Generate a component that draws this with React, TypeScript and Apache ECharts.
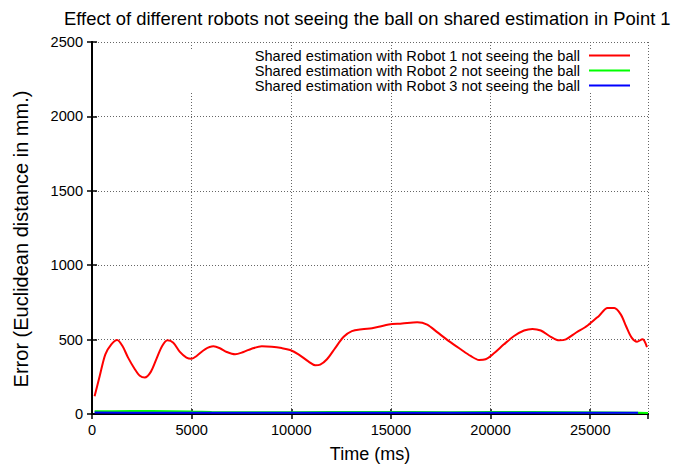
import React, { useEffect, useRef } from "react";
import * as echarts from "echarts";

const titleText = "Effect of different robots not seeing the ball on shared estimation in Point 1";
const seriesNames = [
  "Shared estimation with Robot 1 not seeing the ball",
  "Shared estimation with Robot 2 not seeing the ball",
  "Shared estimation with Robot 3 not seeing the ball",
];

const robot1Time = [130, 390, 670, 970, 1260, 1530, 1810, 2150, 2400, 2650, 2950, 3240, 3520, 3790, 4080, 4410, 4740, 5000, 5250, 5670, 6090, 6420, 6760, 7180, 7600, 8010, 8520, 9020, 9520, 9940, 10360, 10870, 11200, 11450, 11790, 12210, 12630, 13040, 13550, 14050, 14390, 14890, 15560, 16320, 16820, 17320, 17910, 18500, 19000, 19420, 19750, 20170, 20670, 21180, 21680, 22100, 22520, 23020, 23440, 23780, 24280, 24870, 25450, 25870, 26210, 26540, 26800, 27080, 27350, 27630, 27720, 27850];
const robot1Error = [119, 257, 401, 468, 497, 457, 379, 301, 257, 245, 283, 372, 457, 495, 479, 417, 379, 372, 390, 435, 455, 442, 417, 401, 417, 439, 455, 452, 443, 430, 401, 352, 328, 332, 368, 445, 519, 557, 570, 577, 586, 601, 608, 617, 601, 550, 490, 435, 390, 363, 368, 408, 468, 524, 561, 572, 561, 519, 495, 502, 546, 595, 661, 712, 712, 668, 590, 513, 486, 502, 490, 450];

const robot2Time = [130, 1000, 2000, 3000, 4000, 5000, 6000, 8000, 10000, 12000, 14000, 16000, 18000, 20000, 22000, 24000, 26000, 27400, 27900];
const robot2Error = [18, 19, 20, 20, 19, 16, 14, 12, 12, 13, 13, 13, 12, 14, 14, 12, 10, 8, 7];

const robot3Time = [130, 2000, 5000, 8000, 11000, 14000, 17000, 20000, 23000, 26000, 27400];
const robot3Error = [10, 9, 8, 8, 8, 9, 9, 9, 9, 8, 8];

const xTickStep = 5000;
const xMax = 27900;
const yTickStep = 500;
const yMax = 2500;

const zip = (t: number[], v: number[]) => t.map((x, i) => [x, v[i]]);

export default function App() {
  const ref = useRef<HTMLDivElement>(null);
  useEffect(() => {
    if (!ref.current) return;
    const chart = echarts.init(ref.current, undefined, { renderer: "svg" });
    const font = "Liberation Sans";
    const frameLine = { show: true, lineStyle: { color: "#000", width: 2 } };
    const tick = { show: true, inside: true, length: 5, lineStyle: { color: "#000", width: 1.5 } };
    const grid = { show: true, lineStyle: { color: "#666", width: 1, type: [1, 2] as any } };
    const plain = (v: number) => String(v);
    chart.setOption({
      animation: false,
      textStyle: { fontFamily: font },
      title: {
        text: titleText,
        left: 64,
        top: 9,
        padding: 0,
        textStyle: { fontSize: 18.4, fontWeight: "normal", color: "#000", fontFamily: font },
      },
      legend: {
        orient: "vertical",
        align: "right",
        right: 45,
        top: 48,
        padding: 0,
        itemGap: 0,
        icon: "rect",
        itemWidth: 41,
        itemHeight: 2,
        textStyle: { fontSize: 14.6, lineHeight: 14.3, color: "#000", fontFamily: font, padding: [0, 4, 0, 0] },
        data: seriesNames,
      },
      graphic: [
        {
          type: "rect",
          z: 1,
          shape: { x: 150, y: 49, width: 496, height: 44 },
          style: { fill: "#fff" },
        },
      ],
      grid: { left: 92, right: 27, top: 42, bottom: 50 },
      xAxis: [
        {
          type: "value",
          min: 0,
          max: xMax,
          interval: xTickStep,
          name: "Time (ms)",
          nameLocation: "middle",
          nameGap: 31,
          nameTextStyle: { fontSize: 18, color: "#000" },
          axisLine: frameLine,
          axisTick: tick,
          axisLabel: { fontSize: 14.6, color: "#000", margin: 8, showMaxLabel: false, formatter: plain },
          splitLine: grid,
        },
        {
          type: "value",
          position: "top",
          min: 0,
          max: xMax,
          interval: xTickStep,
          axisLine: frameLine,
          axisTick: tick,
          axisLabel: { show: false },
          splitLine: { show: false },
        },
      ],
      yAxis: [
        {
          type: "value",
          min: 0,
          max: yMax,
          interval: yTickStep,
          name: "Error (Euclidean distance in mm.)",
          nameLocation: "middle",
          nameGap: 61,
          nameTextStyle: { fontSize: 20, color: "#000", padding: [0, 22, 0, 0] },
          axisLine: frameLine,
          axisTick: tick,
          axisLabel: { fontSize: 14.6, color: "#000", margin: 9, formatter: plain },
          splitLine: grid,
        },
        {
          type: "value",
          position: "right",
          min: 0,
          max: yMax,
          interval: yTickStep,
          axisLine: frameLine,
          axisTick: tick,
          axisLabel: { show: false },
          splitLine: { show: false },
        },
      ],
      series: [
        {
          name: seriesNames[0],
          type: "line",
          data: zip(robot1Time, robot1Error),
          showSymbol: false,
          smooth: 0.3,
          color: "#ff0000",
          lineStyle: { width: 2, color: "#ff0000" },
        },
        {
          name: seriesNames[1],
          type: "line",
          data: zip(robot2Time, robot2Error),
          showSymbol: false,
          color: "#00ff00",
          lineStyle: { width: 2, color: "#00ff00" },
        },
        {
          name: seriesNames[2],
          type: "line",
          data: zip(robot3Time, robot3Error),
          showSymbol: false,
          color: "#0000ff",
          lineStyle: { width: 2, color: "#0000ff" },
        },
      ],
    });
    return () => chart.dispose();
  }, []);
  return (
    <div
      ref={ref}
      style={{ position: "fixed", left: 0, top: 0, width: 675, height: 468, background: "#fff" }}
    />
  );
}
